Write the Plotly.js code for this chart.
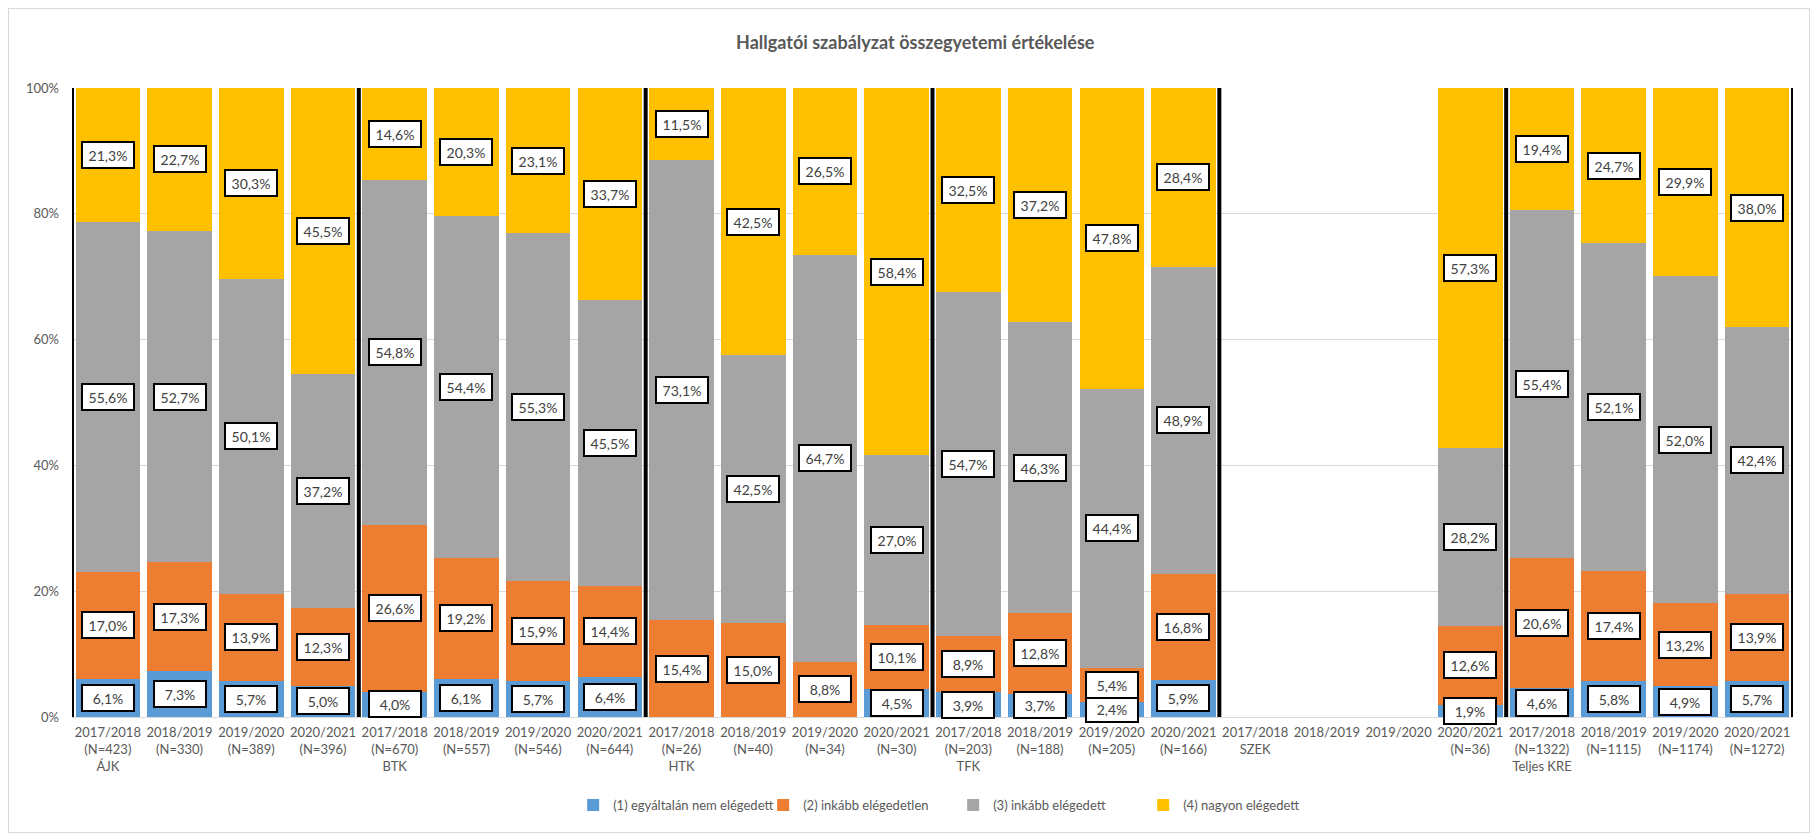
<!DOCTYPE html>
<html>
<head>
<meta charset="utf-8">
<script src="https://cdn.plot.ly/plotly-3.0.1.min.js"></script>
<style>
  html, body { margin: 0; padding: 0; background: #fff; }
  #wrap { position: relative; width: 1816px; height: 836px; }
  #chart { position: absolute; left: 0; top: 0; width: 1816px; height: 836px; }
  #frame { position: absolute; left: 8px; top: 8px; width: 1800px; height: 823px; border: 1px solid #d9d9d9; pointer-events: none; }
</style>
</head>
<body>
<div id="wrap"><div id="chart"></div><div id="frame"></div></div>
<script>
// ---- data ----
const groups = ["ÁJK", "BTK", "HTK", "TFK", "SZEK", "Teljes KRE"];
const years = ["2017/2018", "2018/2019", "2019/2020", "2020/2021"];
const nCounts = [
  [423, 330, 389, 396],
  [670, 557, 546, 644],
  [26, 40, 34, 30],
  [203, 188, 205, 166],
  [null, null, null, 36],
  [1322, 1115, 1174, 1272]
];
const seriesNames = ["(1) egyáltalán nem elégedett", "(2) inkább elégedetlen", "(3) inkább elégedett", "(4) nagyon elégedett"];
const v1 = [6.1, 7.3, 5.7, 5.0,  4.0, 6.1, 5.7, 6.4,  0, 0, 0, 4.5,  3.9, 3.7, 2.4, 5.9,  null, null, null, 1.9,  4.6, 5.8, 4.9, 5.7];
const v2 = [17.0, 17.3, 13.9, 12.3,  26.6, 19.2, 15.9, 14.4,  15.4, 15.0, 8.8, 10.1,  8.9, 12.8, 5.4, 16.8,  null, null, null, 12.6,  20.6, 17.4, 13.2, 13.9];
const v3 = [55.6, 52.7, 50.1, 37.2,  54.8, 54.4, 55.3, 45.5,  73.1, 42.5, 64.7, 27.0,  54.7, 46.3, 44.4, 48.9,  null, null, null, 28.2,  55.4, 52.1, 52.0, 42.4];
const v4 = [21.3, 22.7, 30.3, 45.5,  14.6, 20.3, 23.1, 33.7,  11.5, 42.5, 26.5, 58.4,  32.5, 37.2, 47.8, 28.4,  null, null, null, 57.3,  19.4, 24.7, 29.9, 38.0];
const yTicks = [0, 20, 40, 60, 80, 100];
const yTickLabels = ["0%", "20%", "40%", "60%", "80%", "100%"];

// ---- build ----
const colors = ["#5B9BD5", "#ED7D31", "#A5A5A5", "#FFC000"];
const categories = [];
groups.forEach((g, gi) => {
  years.forEach((y, yi) => {
    const lines = [y];
    const n = nCounts[gi][yi];
    if (n !== null) lines.push("(N=" + n + ")");
    if (yi === 0) lines.push(g);
    categories.push(lines.join("<br>"));
  });
});
const values = [v1, v2, v3, v4];

const traces = values.map((vals, si) => ({
  type: "bar",
  name: seriesNames[si],
  x: categories.map((c, i) => i),
  y: vals,
  marker: { color: colors[si], line: { width: 0 } },
  hoverinfo: "y+name"
}));

const annotations = [];
categories.forEach((c, ci) => {
  let base = 0;
  values.forEach((vals, si) => {
    const v = vals[ci];
    if (v !== null && v > 0) {
      annotations.push({
        x: ci, y: base + v / 2, xref: "x", yref: "y",
        text: v.toFixed(1).replace(".", ",") + "%",
        showarrow: false,
        font: { family: "Lato, 'Open Sans', sans-serif", size: 14, color: "#404040" },
        bgcolor: "#ffffff", bordercolor: "#000000", borderwidth: 2, borderpad: 3,
        width: 44, height: 18
      });
    }
    if (v !== null) base += v;
  });
});

const shapes = [];
let boundary = -0.5;
shapes.push({ type: "line", xref: "x", yref: "y", x0: boundary, x1: boundary, y0: 0, y1: 100, line: { color: "#000", width: 4 }, layer: "above" });
groups.forEach(() => {
  boundary += years.length;
  shapes.push({ type: "line", xref: "x", yref: "y", x0: boundary, x1: boundary, y0: 0, y1: 100, line: { color: "#000", width: 4 }, layer: "above" });
});

const layout = {
  width: 1816, height: 836,
  margin: { l: 72, r: 23, t: 88, b: 119 },
  paper_bgcolor: "#fff", plot_bgcolor: "#fff",
  barmode: "stack", bargap: 0.1,
  font: { family: "Lato, 'Open Sans', sans-serif", color: "#595959", size: 13 },
  title: {
    text: "<b>Hallgatói szabályzat összegyetemi értékelése</b>",
    x: 0.504, xref: "container", xanchor: "center",
    y: 1 - 43 / 836, yref: "container", yanchor: "middle",
    font: { size: 18, color: "#595959", family: "Lato, 'Open Sans', sans-serif" }
  },
  xaxis: {
    type: "linear", range: [-0.5, categories.length - 0.5],
    tickmode: "array", tickvals: categories.map((c, i) => i), ticktext: categories,
    showgrid: false, zeroline: false, showline: false, ticks: "",
    tickfont: { size: 13, color: "#595959" }, ticklabelstandoff: 6
  },
  yaxis: {
    range: [0, 100], tickmode: "array", tickvals: yTicks, ticktext: yTickLabels,
    showgrid: true, gridcolor: "#d9d9d9", gridwidth: 1,
    zeroline: true, zerolinecolor: "#d9d9d9", zerolinewidth: 1,
    showline: false, ticks: "", ticklabelstandoff: 12,
    tickfont: { size: 13, color: "#595959" }
  },
  legend: {
    orientation: "h", x: 0.512, xanchor: "center", y: -0.14, yanchor: "middle",
    font: { size: 13, color: "#595959" }, itemwidth: 30, traceorder: "normal",
    entrywidth: 145, entrywidthmode: "pixels"
  },
  showlegend: true,
  annotations: annotations,
  shapes: shapes
};

Plotly.newPlot("chart", traces, layout, { displayModeBar: false, staticPlot: true });
</script>
</body>
</html>
